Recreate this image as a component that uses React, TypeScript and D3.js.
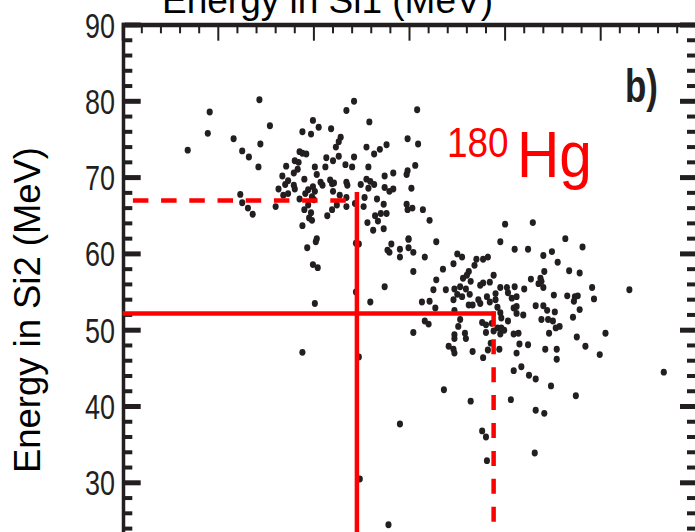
import React from "react";
import * as d3 from "d3";

const W = 695;
const H = 532;

// Coincident fission fragments: [energy in Si1, energy in Si2] in MeV
const hits: [number, number][] = [
  [44.3, 80.2], [39.1, 78.6], [54.2, 80.0], [53.4, 78.8], [60.8, 78.9], [45.4, 76.8], [38.9, 75.8], [36.8, 73.6], [41.6, 75.1], [44.4, 74.4],
  [42.5, 73.5], [43.2, 72.7], [44.2, 71.4], [49.9, 77.5], [50.5, 76.6], [48.8, 76.0], [49.7, 75.7], [51.8, 76.4], [55.8, 77.3], [52.8, 75.3],
  [52.6, 74.7], [52.3, 74.0], [59.8, 75.1], [60.9, 74.4], [55.5, 74.0], [56.3, 73.1], [56.9, 73.7], [57.6, 74.3], [48.5, 73.4], [48.8, 73.2],
  [49.2, 73.1], [52.6, 72.8], [51.3, 72.6], [52.0, 72.2], [54.2, 72.7], [53.3, 71.7], [54.0, 71.4], [48.0, 72.2], [48.4, 72.0], [47.1, 71.5],
  [48.3, 71.1], [50.1, 71.4], [51.2, 71.4], [55.7, 71.4], [60.6, 71.6], [47.9, 70.6], [46.7, 70.2], [50.3, 70.4], [49.0, 69.8], [47.3, 69.6],
  [47.0, 69.1], [47.9, 69.0], [48.0, 68.5], [46.3, 68.5], [46.8, 67.7], [47.3, 67.9], [50.7, 69.4], [50.9, 69.0], [51.7, 69.7], [51.9, 69.2],
  [52.1, 69.3], [53.4, 69.4], [53.5, 69.0], [54.9, 69.1], [55.5, 69.8], [55.9, 69.5], [56.3, 69.1], [57.4, 70.2], [58.3, 70.6], [59.7, 70.4],
  [59.8, 70.9], [57.4, 68.7], [57.9, 68.2], [58.3, 68.5], [60.2, 68.6], [49.4, 68.4], [49.9, 68.8], [50.1, 68.2], [49.1, 67.9], [48.5, 67.2],
  [49.8, 67.5], [50.0, 67.1], [52.0, 68.2], [52.7, 67.7], [53.4, 67.4], [55.3, 67.4], [55.7, 68.6], [56.6, 67.2], [42.3, 67.8], [42.5, 66.7],
  [43.1, 66.0], [43.6, 65.2], [46.0, 66.2], [49.0, 65.8], [49.4, 66.4], [49.7, 65.4], [49.5, 64.7], [49.8, 64.4], [48.8, 63.7], [51.4, 65.0],
  [51.9, 65.8], [52.4, 66.4], [53.4, 66.2], [54.3, 66.6], [55.2, 66.2], [55.6, 64.1], [56.2, 63.1], [56.4, 65.0], [56.7, 64.3], [57.0, 65.3],
  [57.3, 66.5], [57.6, 65.3], [57.3, 63.3], [59.7, 66.5], [59.8, 65.8], [60.3, 66.0], [61.4, 65.8], [62.1, 64.4], [50.3, 62.0], [59.9, 62.0],
  [49.3, 60.8], [50.2, 61.6], [49.9, 58.6], [50.4, 58.2], [50.1, 53.5], [54.4, 61.4], [54.7, 61.3], [57.7, 60.5], [58.1, 61.3], [57.9, 60.2],
  [59.0, 60.6], [59.0, 59.6], [59.9, 61.9], [59.9, 60.8], [60.4, 60.2], [61.6, 59.6], [60.4, 57.7], [57.4, 55.7], [54.4, 55.0], [55.9, 53.7],
  [61.3, 53.7], [62.1, 53.8], [61.6, 51.2], [62.0, 50.8], [60.4, 49.7], [48.8, 47.1], [54.7, 46.5], [59.0, 37.7], [54.8, 30.5], [57.8, 24.5],
  [70.0, 63.9], [72.9, 64.1], [62.8, 61.6], [69.5, 61.6], [76.3, 62.0], [78.1, 60.9], [71.0, 60.6], [72.4, 60.6], [74.9, 60.3], [74.0, 59.8],
  [75.5, 58.9], [65.0, 60.0], [65.5, 59.6], [64.6, 58.7], [63.5, 58.0], [67.0, 59.3], [67.7, 59.3], [68.2, 59.6], [66.8, 58.5], [76.7, 57.8],
  [77.8, 57.5], [74.1, 57.7], [66.2, 57.7], [68.8, 57.2], [62.8, 56.6], [65.6, 56.8], [66.0, 57.2], [66.4, 56.4], [67.7, 56.2], [68.4, 56.3],
  [72.7, 56.7], [73.7, 56.8], [73.5, 56.1], [73.8, 56.4], [62.5, 55.3], [63.8, 55.3], [64.7, 55.4], [65.3, 55.7], [65.9, 55.4], [67.4, 55.9],
  [69.5, 55.6], [70.2, 55.6], [71.0, 55.7], [72.0, 55.4], [74.0, 55.6], [79.1, 55.6], [83.0, 55.3], [64.6, 54.0], [65.0, 54.7], [65.5, 54.4],
  [66.3, 54.7], [67.2, 54.0], [68.1, 54.4], [68.4, 53.7], [69.0, 54.0], [69.0, 54.8], [70.3, 54.9], [70.7, 54.2], [71.2, 54.4], [75.1, 54.6],
  [76.5, 54.5], [77.3, 54.4], [77.6, 54.5], [77.2, 53.8], [79.3, 54.1], [62.7, 52.9], [64.7, 52.6], [66.2, 53.3], [66.6, 53.3], [67.4, 53.5],
  [69.2, 53.0], [70.9, 52.9], [71.2, 53.1], [73.2, 53.2], [74.0, 53.2], [74.4, 52.6], [75.2, 52.4], [77.8, 52.7], [65.3, 51.4], [67.6, 51.0],
  [69.5, 52.3], [69.6, 51.6], [70.3, 51.2], [71.2, 52.2], [71.9, 52.0], [73.8, 51.4], [74.5, 51.4], [75.0, 51.2], [77.1, 51.7], [65.1, 50.5],
  [68.0, 50.7], [68.6, 50.9], [69.2, 50.3], [69.6, 50.3], [75.7, 50.5], [75.3, 50.3],
  [64.7, 49.4], [64.7, 48.9], [65.8, 49.6], [65.9, 48.9], [68.0, 49.7], [68.8, 49.9], [69.5, 49.5], [69.9, 50.0], [70.9, 49.5], [71.4, 49.6],
  [71.5, 48.2], [72.4, 48.1], [74.6, 49.6], [77.5, 49.1], [80.5, 49.6], [64.1, 47.9], [64.6, 47.5], [64.7, 47.0], [66.6, 47.2], [67.7, 46.4],
  [68.2, 47.4], [68.5, 48.3], [69.4, 47.5], [71.2, 47.0], [74.2, 47.5], [75.4, 47.5], [75.4, 46.2], [78.4, 47.9], [79.9, 46.8], [70.9, 44.7],
  [71.7, 45.2], [72.5, 44.1], [73.2, 43.6], [74.8, 42.7], [77.4, 41.4], [86.6, 44.5], [63.6, 42.2], [66.4, 40.7], [70.6, 40.9], [73.2, 39.5],
  [74.1, 39.1], [67.6, 36.8], [68.0, 36.0], [73.1, 33.9], [68.1, 32.9],
];

// Axis ticks (MeV)
const siOneTicks = d3.range(30, 91, 2);
const siTwoTicks = d3.range(20, 91, 2);
const siTwoLabels = [30, 40, 50, 60, 70, 80, 90];

// Fragment energy peaks marked by the guide lines (MeV)
const heavySi1 = 54.5;
const lightSi2 = 67.0;
const lightSi1 = 68.8;
const heavySi2 = 52.2;
const guideTop = 68.1;
const guideBottom = 24.8;

const INK = "#231f20";
const RED = "#ff0000";
const FONT = "'Liberation Sans', Arial, Helvetica, sans-serif";

export default function App() {
  const x = d3.scaleLinear().domain([30, 90]).range([122.7, 696.3]);
  const y = d3.scaleLinear().domain([20, 90]).range([559.1, 25]);

  const leftEdge = 123.5;
  const rightEdge = 697.5;
  const topEdge = y(90);
  const isMajor = (v: number) => v % 10 === 0;

  return (
    <svg
      width={W}
      height={H}
      viewBox={`0 0 ${W} ${H}`}
      style={{ position: "absolute", left: 0, top: 0, background: "#fff" }}
    >
      <rect width={W} height={H} fill="#fff" />

      {/* axis titles */}
      <text
        x={162}
        y={12.5}
        fontFamily={FONT}
        fontSize={37}
        fill="#000"
        textLength={331}
        lengthAdjust="spacingAndGlyphs"
      >
        Energy in Si1 (MeV)
      </text>
      <text
        transform={`translate(40,310) rotate(-90)`}
        textAnchor="middle"
        fontFamily={FONT}
        fontSize={37.5}
        fill="#000"
        textLength={326}
        lengthAdjust="spacingAndGlyphs"
      >
        Energy in Si2 (MeV)
      </text>

      {/* left tick labels */}
      {siTwoLabels.map((v) => (
        <text
          key={`l${v}`}
          transform={`translate(115,${y(v) + 12.5}) scale(0.77,1)`}
          textAnchor="end"
          fontFamily={FONT}
          fontSize={35}
          fill={INK}
        >
          {v}
        </text>
      ))}

      {/* data points */}
      <g fill={INK}>
        {hits.map(([a, b], i) => (
          <ellipse key={i} cx={x(a)} cy={y(b)} rx={3.05} ry={3.45} />
        ))}
      </g>

      {/* frame */}
      <line x1={leftEdge} x2={leftEdge} y1={topEdge - 2.25} y2={H + 5} stroke={INK} strokeWidth={3.5} />
      <line x1={leftEdge - 1.75} x2={W + 5} y1={topEdge} y2={topEdge} stroke={INK} strokeWidth={4.5} />
      <line x1={rightEdge} x2={rightEdge} y1={topEdge} y2={H + 5} stroke={INK} strokeWidth={3.5} />

      {/* top ticks */}
      {siOneTicks.map((v) => (
        <line
          key={`t${v}`}
          x1={x(v)}
          x2={x(v)}
          y1={topEdge + 2}
          y2={isMajor(v) ? 40.7 : 33.3}
          stroke={INK}
          strokeWidth={2}
        />
      ))}

      {/* left and right ticks */}
      {siTwoTicks.map((v) => (
        <g key={`s${v}`}>
          <line
            x1={leftEdge + 1.5}
            x2={isMajor(v) ? 140.7 : 132.3}
            y1={y(v)}
            y2={y(v)}
            stroke={INK}
            strokeWidth={isMajor(v) ? 5 : 4}
          />
          <line
            x1={rightEdge - 1.5}
            x2={isMajor(v) ? 680 : 687}
            y1={y(v)}
            y2={y(v)}
            stroke={INK}
            strokeWidth={isMajor(v) ? 5 : 4}
          />
        </g>
      ))}

      {/* guide lines at the fragment energy peaks */}
      <g stroke={RED} strokeWidth={4.5} fill="none">
        <line
          x1={x(30)}
          x2={x(heavySi1)}
          y1={y(lightSi2)}
          y2={y(lightSi2)}
          strokeDasharray="15.5 12.7"
          strokeDashoffset={18}
        />
        <line x1={x(heavySi1)} x2={x(heavySi1)} y1={y(guideTop)} y2={H + 5} />
        <line x1={x(30)} x2={x(lightSi1) + 2.25} y1={y(heavySi2)} y2={y(heavySi2)} />
        <line
          x1={x(lightSi1)}
          x2={x(lightSi1)}
          y1={y(heavySi2) - 2}
          y2={y(guideBottom)}
          strokeDasharray="15 12.9"
        />
      </g>

      {/* nucleus label */}
      <text x={447} y={156.7} fontFamily={FONT} fontSize={42} fill={RED} textLength={61.6} lengthAdjust="spacingAndGlyphs">
        180
      </text>
      <text x={517} y={176.7} fontFamily={FONT} fontSize={65} fill={RED} textLength={75} lengthAdjust="spacingAndGlyphs">
        Hg
      </text>

      {/* panel tag */}
      <text
        transform="translate(625,102) scale(0.76,1)"
        fontFamily={FONT}
        fontSize={46}
        fontWeight="bold"
        fill={INK}
      >
        b)
      </text>
    </svg>
  );
}
